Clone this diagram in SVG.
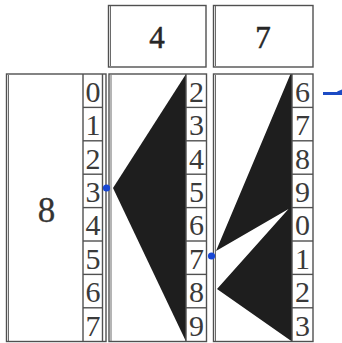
<svg xmlns="http://www.w3.org/2000/svg" width="342" height="343" viewBox="0 0 342 343">
<style>
.ln{fill:none;stroke:#505050;stroke-width:1.4}
.thin{fill:none;stroke:#6a6a6a;stroke-width:1}
.d{font-family:"Liberation Serif","Times New Roman",serif;font-size:30px;fill:#3a3a3a;text-anchor:middle}
.h{font-family:"Liberation Serif","Times New Roman",serif;font-size:31px;fill:#262626;stroke:#262626;stroke-width:0.5;text-anchor:middle}
.big{font-family:"Liberation Serif","Times New Roman",serif;font-size:35px;fill:#333;stroke:#333;stroke-width:0.3;text-anchor:middle}
.dark{fill:#1e1e1e}
.dot{fill:#1746d4}
</style>
<rect width="342" height="343" fill="#ffffff"/>
<g id="header-4">
<rect class="ln" x="108.5" y="5.5" width="97.5" height="61.5"/>
<line class="thin" x1="110.5" y1="6" x2="110.5" y2="66"/>
<text class="h" x="157" y="48">4</text>
</g>
<g id="header-7">
<rect class="ln" x="213.5" y="5.5" width="99.5" height="61.5"/>
<line class="thin" x1="215.5" y1="6" x2="215.5" y2="66"/>
<text class="h" x="263" y="48">7</text>
</g>
<g id="column-8">
<rect class="ln" x="6.5" y="74" width="99.5" height="267.5"/>
<line class="thin" x1="8.5" y1="75" x2="8.5" y2="341"/>
<line class="ln" x1="83" y1="74" x2="83" y2="341.5"/>
<line class="ln" x1="102.5" y1="74" x2="102.5" y2="341.5"/>
<g class="ln">
<line x1="83" y1="107.4" x2="102.5" y2="107.4"/>
<line x1="83" y1="140.8" x2="102.5" y2="140.8"/>
<line x1="83" y1="174.2" x2="102.5" y2="174.2"/>
<line x1="83" y1="207.6" x2="102.5" y2="207.6"/>
<line x1="83" y1="241" x2="102.5" y2="241"/>
<line x1="83" y1="274.4" x2="102.5" y2="274.4"/>
<line x1="83" y1="307.8" x2="102.5" y2="307.8"/>
</g>
<text class="big" x="46.5" y="222">8</text>
<text class="d" x="93" y="101.8">0</text>
<text class="d" x="93" y="135.2">1</text>
<text class="d" x="93" y="168.6">2</text>
<text class="d" x="93" y="202">3</text>
<text class="d" x="93" y="235.4">4</text>
<text class="d" x="93" y="268.8">5</text>
<text class="d" x="93" y="302.2">6</text>
<text class="d" x="93" y="335.6">7</text>
</g>
<g id="column-4">
<polygon class="dark" points="113,188 186,74 186,341.5"/>
<rect class="ln" x="109" y="74" width="97.5" height="267.5"/>
<line class="thin" x1="111" y1="75" x2="111" y2="341"/>
<line class="ln" x1="186" y1="74" x2="186" y2="341.5"/>
<g class="ln">
<line x1="186" y1="107.4" x2="206.5" y2="107.4"/>
<line x1="186" y1="140.8" x2="206.5" y2="140.8"/>
<line x1="186" y1="174.2" x2="206.5" y2="174.2"/>
<line x1="186" y1="207.6" x2="206.5" y2="207.6"/>
<line x1="186" y1="241" x2="206.5" y2="241"/>
<line x1="186" y1="274.4" x2="206.5" y2="274.4"/>
<line x1="186" y1="307.8" x2="206.5" y2="307.8"/>
</g>
<text class="d" x="196.5" y="101.8">2</text>
<text class="d" x="196.5" y="135.2">3</text>
<text class="d" x="196.5" y="168.6">4</text>
<text class="d" x="196.5" y="202">5</text>
<text class="d" x="196.5" y="235.4">6</text>
<text class="d" x="196.5" y="268.8">7</text>
<text class="d" x="196.5" y="302.2">8</text>
<text class="d" x="196.5" y="335.6">9</text>
</g>
<g id="column-7">
<polygon class="dark" points="290.5,74 216,251 288.5,209 217,289 292,341.5 292,74"/>
<rect class="ln" x="213.5" y="74" width="99.5" height="267.5"/>
<line class="thin" x1="215.5" y1="75" x2="215.5" y2="341"/>
<line class="ln" x1="292" y1="74" x2="292" y2="341.5"/>
<g class="ln">
<line x1="292" y1="107.4" x2="313" y2="107.4"/>
<line x1="292" y1="140.8" x2="313" y2="140.8"/>
<line x1="292" y1="174.2" x2="313" y2="174.2"/>
<line x1="292" y1="207.6" x2="313" y2="207.6"/>
<line x1="292" y1="241" x2="313" y2="241"/>
<line x1="292" y1="274.4" x2="313" y2="274.4"/>
<line x1="292" y1="307.8" x2="313" y2="307.8"/>
</g>
<text class="d" x="302.5" y="101.8">6</text>
<text class="d" x="302.5" y="135.2">7</text>
<text class="d" x="302.5" y="168.6">8</text>
<text class="d" x="302.5" y="202">9</text>
<text class="d" x="302.5" y="235.4">0</text>
<text class="d" x="302.5" y="268.8">1</text>
<text class="d" x="302.5" y="302.2">2</text>
<text class="d" x="302.5" y="335.6">3</text>
</g>
<g id="connectors">
<circle class="dot" cx="106.5" cy="188" r="3.6"/>
<circle class="dot" cx="211.5" cy="256" r="3.6"/>
<line x1="323" y1="93.5" x2="342" y2="93.5" stroke="#1c4bc4" stroke-width="3"/>
<polygon points="337,91.5 342,89.5 342,95" fill="#1c4bc4"/>
</g>
</svg>
